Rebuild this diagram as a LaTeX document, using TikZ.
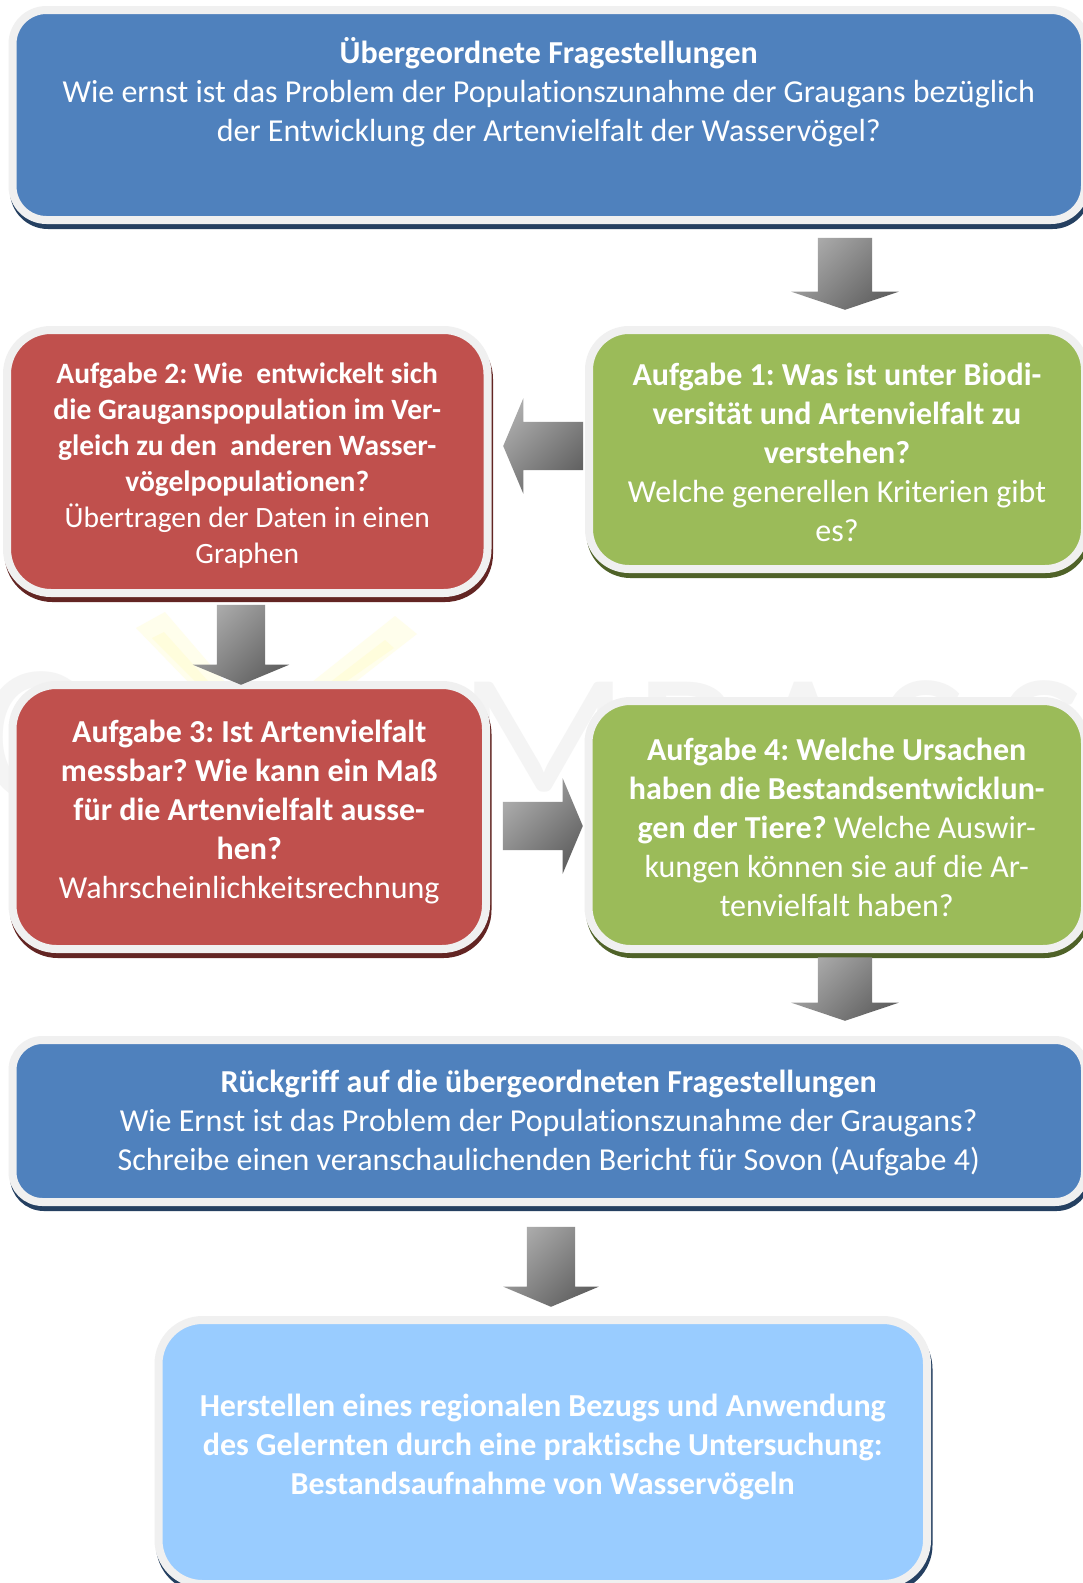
\documentclass[tikz,border=0pt]{standalone}
\usepackage{fontspec}
\setmainfont[Ligatures=NoCommon]{Carlito}
\usetikzlibrary{shapes.arrows}
\frenchspacing
\definecolor{bluefill}{HTML}{4F81BD}
\definecolor{blueshade}{HTML}{254061}
\definecolor{redfill}{HTML}{C0504D}
\definecolor{redshade}{HTML}{632523}
\definecolor{greenfill}{HTML}{9BBB59}
\definecolor{greenshade}{HTML}{4F6228}
\definecolor{skyfill}{HTML}{99CCFF}
\definecolor{rimgrey}{HTML}{F0F0F0}
\definecolor{markgrey}{HTML}{F4F4F4}
\definecolor{markyellow}{HTML}{FFFDDC}
\definecolor{markpale}{HTML}{FFFEEC}
\tikzset{
  panel/.style n args={2}{draw=rimgrey,line width=8pt,fill=#1,inner sep=0pt,outer sep=0pt,align=center,text=white,
    preaction={draw=#2,fill=#2,line width=8pt,transform canvas={shift={(1.5pt,-5pt)}}}},
  blockarrow/.style={shade,shading=axis,top color=black!33,bottom color=black!62,shading angle=45,
    single arrow,single arrow head indent=0pt,anchor=tip},
  bigtext/.style={font=\fontsize{32}{39}\selectfont},
  midtext/.style={font=\fontsize{29.5}{36}\selectfont},
  watermark/.style={text=markgrey,font=\fontsize{200}{200}\selectfont,inner sep=0pt,anchor=base west}
}
\newcommand{\topgap}[1]{\rule{0pt}{#1pt}}
\newcommand{\botgap}[1]{\rule[-#1pt]{0pt}{#1pt}}
% name, x0, y0, x1, y1 of the coloured face
\newcommand{\panelat}[8]{%
  \pgfmathsetlengthmacro{\pw}{#4-#2+8}\pgfmathsetlengthmacro{\ph}{#5-#3+8}%
  \node[panel={#6}{#7},#8,minimum width=\pw,minimum height=\ph,
    anchor=north west] (#1) at ({#2-4},{#3-4})}
% name, tip x, tip y, rotation, length, head width, shaft width, tip length
\newcommand{\blockat}[8]{%
  \pgfmathsetmacro{\ta}{2*atan((#6/2)/#8)}%
  \pgfmathsetlengthmacro{\he}{(#6-#7)/2}%
  \pgfmathsetlengthmacro{\hs}{#7/2}%
  \node[blockarrow,shape border rotate=#4,minimum height=#5pt,minimum width=#6pt,
    inner sep=\hs,single arrow head extend=\he,single arrow tip angle=\ta] (#1) at (#2,#3) {};}
\begin{document}
\begin{tikzpicture}[x=1pt,y=-1pt]
\useasboundingbox (0,0) rectangle (1083,1583);
\clip (0,0) rectangle (1083,1583);
\fill[white] (0,0) rectangle (1083,1583);
% faint watermark
\fill[markpale] (136,628) -- (165,612) -- (232,690) -- (196,690) -- cycle;
\fill[markpale] (395,616) -- (417,634) -- (345,690) -- (302,690) -- cycle;
\fill[markyellow] (152,638) -- (164,632) -- (216,690) -- (204,690) -- cycle;
\fill[markyellow] (385,640) -- (394,648) -- (334,690) -- (320,690) -- cycle;
\node[watermark] (markc) at (-22,801) {C};
\node[watermark] (markm) at (458,810) {M\kern5ptP\kern8ptA\kern16ptS\kern26ptS};
% panels
\panelat{top}{16.5}{14}{1081}{216}{bluefill}{blueshade}{rounded corners=34pt,bigtext}{\textbf{Übergeordnete Fragestellungen}\\Wie ernst ist das Problem der Populationszunahme der Graugans bezüglich\\der Entwicklung der Artenvielfalt der Wasservögel?\botgap{51}};
\panelat{aufgeins}{593}{334}{1081}{565}{greenfill}{greenshade}{rounded corners=40pt,bigtext}{\topgap{28}\textbf{Aufgabe 1: Was ist unter Biodi-}\\\textbf{versität und Artenvielfalt zu}\\\textbf{verstehen?}\\Welche generellen Kriterien gibt\\es?};
\panelat{aufgzwei}{11}{334}{483.5}{589}{redfill}{redshade}{rounded corners=44pt,midtext}{\topgap{29}\textbf{Aufgabe 2: Wie\ \ entwickelt sich}\\\textbf{die Grauganspopulation im Ver-}\\\textbf{gleich zu den\ \ anderen Wasser-}\\\textbf{vögelpopulationen?}\\Übertragen der Daten in einen\\Graphen};
\panelat{aufgdrei}{16.5}{689}{482}{945}{redfill}{redshade}{rounded corners=44pt,bigtext}{\textbf{Aufgabe 3: Ist Artenvielfalt}\\\textbf{messbar? Wie kann ein Maß}\\\textbf{für die Artenvielfalt ausse-}\\\textbf{hen?}\\Wahrscheinlichkeitsrechnung\botgap{16}};
\panelat{aufgvier}{592.5}{705}{1081}{945}{greenfill}{greenshade}{rounded corners=42pt,bigtext}{\topgap{28}\textbf{Aufgabe 4: Welche Ursachen}\\\textbf{haben die Bestandsentwicklun-}\\\textbf{gen der Tiere?} Welche Auswir-\\kungen können sie auf die Ar-\\tenvielfalt haben?};
\panelat{back}{16.5}{1044}{1081}{1198}{bluefill}{blueshade}{rounded corners=30pt,bigtext}{\topgap{26}\textbf{Rückgriff auf die übergeordneten Fragestellungen}\\Wie Ernst ist das Problem der Populationszunahme der Graugans?\\Schreibe einen veranschaulichenden Bericht für Sovon (Aufgabe 4)};
\panelat{local}{162.5}{1324}{923}{1580}{skyfill}{blueshade}{rounded corners=44pt,bigtext}{\textbf{Herstellen eines regionalen Bezugs und Anwendung}\\\textbf{des Gelernten durch eine praktische Untersuchung:}\\\textbf{Bestandsaufnahme von Wasservögeln}\botgap{16}};
% block arrows
\blockat{ara}{845}{310}{270}{72}{107}{54}{18}
\blockat{arb}{503}{446}{180}{80}{95}{48}{20}
\blockat{arc}{241}{685}{270}{80}{96}{48}{20}
\blockat{ard}{583}{826}{0}{80}{95}{48}{20}
\blockat{are}{845}{1021}{270}{63}{107}{54}{18}
\blockat{arf}{551}{1307}{270}{80}{95}{48}{20}
\end{tikzpicture}
\end{document}
